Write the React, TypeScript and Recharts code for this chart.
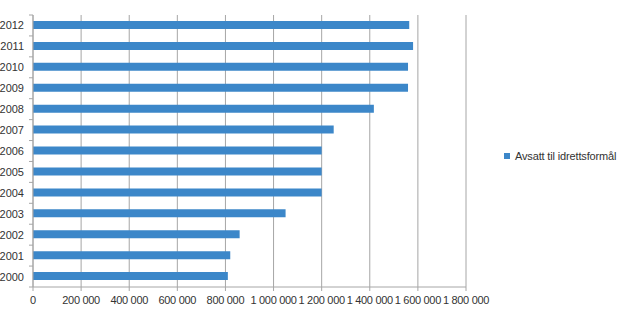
import { Bar, BarChart, CartesianGrid, XAxis, YAxis } from "recharts";

const years = ["2012", "2011", "2010", "2009", "2008", "2007", "2006", "2005", "2004", "2003", "2002", "2001", "2000"];
const avsatt = [1564000, 1580000, 1559000, 1559000, 1417000, 1250000, 1200000, 1200000, 1200000, 1050000, 859000, 820000, 810000];
const xTicks = [0, 200000, 400000, 600000, 800000, 1000000, 1200000, 1400000, 1600000, 1800000];

const data = years.map((y, i) => ({ year: y, avsatt: avsatt[i] }));

const BAR_COLOR = "#3c87c9";
const GRID = "#a6a6a6";
const TEXT = "#333333";
const FONT = "'Liberation Sans', Arial, sans-serif";

const PLOT_TOP = 15;
const PLOT_BOTTOM = 287;
const BAND = (PLOT_BOTTOM - PLOT_TOP) / years.length;

function fmt(v: number): string {
  return String(v).replace(/\B(?=(\d{3})+(?!\d))/g, " ");
}

function YTick(props: any) {
  const { x, y, payload, index } = props;
  return (
    <g>
      <line x1={x - 2} x2={x + 2} y1={y - BAND / 2} y2={y - BAND / 2} stroke={GRID} />
      {index === years.length - 1 && (
        <line x1={x - 2} x2={x + 2} y1={y + BAND / 2} y2={y + BAND / 2} stroke={GRID} />
      )}
      <text x={x - 7} y={y} dy={4} textAnchor="end" fontSize={11} fill={TEXT} fontFamily={FONT}>
        {payload.value}
      </text>
    </g>
  );
}

export default function App() {
  return (
    <div style={{ position: "absolute", left: 0, top: 0, width: 620, height: 322, background: "#fff" }}>
      <BarChart
        width={620}
        height={322}
        data={data}
        layout="vertical"
        margin={{ top: PLOT_TOP, right: 154, left: 0, bottom: 10 }}
        barCategoryGap={0}
      >
        <CartesianGrid horizontal={false} vertical stroke={GRID} />
        <XAxis
          type="number"
          domain={[0, 1800000]}
          ticks={xTicks}
          interval={0}
          tickFormatter={fmt}
          tick={{ fontSize: 11, fill: TEXT, fontFamily: FONT, letterSpacing: -0.3 }}
          stroke={GRID}
          tickSize={4}
          tickMargin={5}
          height={25}
        />
        <YAxis
          type="category"
          dataKey="year"
          width={33}
          stroke={GRID}
          tickLine={false}
          tickSize={0}
          tick={<YTick />}
          interval={0}
        />
        <Bar dataKey="avsatt" fill={BAR_COLOR} barSize={8} isAnimationActive={false} />
      </BarChart>
      <div
        style={{
          position: "absolute",
          left: 504,
          top: 150,
          display: "flex",
          alignItems: "center",
          fontFamily: FONT,
          fontSize: 11,
          letterSpacing: -0.15,
          color: TEXT,
          whiteSpace: "nowrap",
        }}
      >
        <span style={{ width: 6, height: 6, background: BAR_COLOR, display: "inline-block", marginRight: 5 }} />
        Avsatt til idrettsformål
      </div>
    </div>
  );
}
